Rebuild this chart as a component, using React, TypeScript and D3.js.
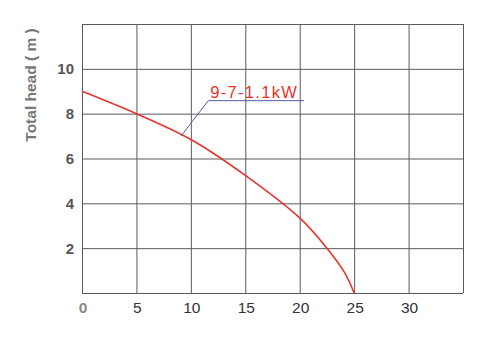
import React, { useRef, useEffect } from "react"
import * as d3 from "d3"

// pump curve 9-7-1.1kW
const flowValues = [0, 5, 10, 15, 20, 22.5, 24.1, 25]
const headValues = [9.0, 8.0, 6.85, 5.25, 3.35, 2.0, 0.93, 0]
const xTicks = [0, 5, 10, 15, 20, 25, 30]
const yTicks = [2, 4, 6, 8, 10]
const xGrid = [0, 5, 10, 15, 20, 25, 30, 35]
const yGrid = [0, 2, 4, 6, 8, 10, 12]
const curveLabel = "9-7-1.1kW"
// leader line: point on curve, elbow, end of underline
const leaderX = [9.1, 11.6, 20.4]
const leaderY = [7.0, 8.58, 8.58]

const width = 482
const height = 342
const margin = { top: 24, right: 19, bottom: 49, left: 82 }

const App: React.FC = () => {
  const svgRef = useRef<SVGSVGElement>(null)

  useEffect(() => {
    if (!svgRef.current) return
    const svg = d3.select(svgRef.current)
    svg.selectAll("*").remove()

    const x = d3.scaleLinear().domain([0, 35]).range([margin.left, width - margin.right])
    const y = d3.scaleLinear().domain([0, 12]).range([height - margin.bottom, margin.top])

    const grid = svg.append("g").attr("stroke", "#5a5a5a").attr("stroke-width", 1)
    grid.selectAll("line.v").data(xGrid).enter().append("line")
      .attr("x1", d => x(d) + 0.5).attr("x2", d => x(d) + 0.5)
      .attr("y1", y(0)).attr("y2", y(12))
    grid.selectAll("line.h").data(yGrid).enter().append("line")
      .attr("x1", x(0)).attr("x2", x(35))
      .attr("y1", d => y(d) + 0.5).attr("y2", d => y(d) + 0.5)

    // y tick labels
    svg.append("g").selectAll("text").data(yTicks).enter().append("text")
      .attr("x", 74).attr("y", d => y(d))
      .attr("dy", "0.36em")
      .attr("text-anchor", "end")
      .attr("font-family", "Liberation Sans, Arial, sans-serif")
      .attr("font-size", 15).attr("font-weight", "bold")
      .attr("fill", "#555")
      .text(d => d)

    // x tick labels
    svg.append("g").selectAll("text").data(xTicks).enter().append("text")
      .attr("x", d => x(d) + 1).attr("y", 313)
      .attr("text-anchor", "middle")
      .attr("font-family", "Liberation Sans, Arial, sans-serif")
      .attr("font-size", 15.5)
      .attr("font-weight", d => d === 0 ? "bold" : "normal")
      .attr("fill", d => d === 0 ? "#888" : "#333")
      .text(d => d)

    // axis title
    svg.append("text")
      .attr("transform", `translate(36, 85) rotate(-90)`)
      .attr("text-anchor", "middle")
      .attr("font-family", "Liberation Sans, Arial, sans-serif")
      .attr("font-size", 15.5).attr("font-weight", "bold")
      .attr("fill", "#777")
      .text("Total head ( m )")

    // curve
    const pts: [number, number][] = flowValues.map((f, i) => [f, headValues[i]])
    const line = d3.line<[number, number]>()
      .x(d => x(d[0])).y(d => y(d[1]))
      .curve(d3.curveCatmullRom.alpha(0.5))
    svg.append("path").datum(pts)
      .attr("d", line)
      .attr("fill", "none")
      .attr("stroke", "#e8332a")
      .attr("stroke-width", 1.6)

    // leader
    const lpts: [number, number][] = leaderX.map((v, i) => [v, leaderY[i]])
    svg.append("path").datum(lpts)
      .attr("d", d3.line<[number, number]>().x(d => x(d[0])).y(d => y(d[1])))
      .attr("fill", "none")
      .attr("stroke", "#5a5aa8")
      .attr("stroke-width", 1)

    svg.append("text")
      .attr("x", x(leaderX[1]) + 2).attr("y", y(leaderY[1]) - 3)
      .attr("font-family", "Liberation Sans, Arial, sans-serif")
      .attr("font-size", 16.5)
      .attr("letter-spacing", 1.3)
      .attr("fill", "#e8332a")
      .text(curveLabel)
  }, [])

  return (
    <svg ref={svgRef} width={width} height={height}
      style={{ position: "absolute", left: 0, top: 0, background: "#fff" }} />
  )
}

export default App
